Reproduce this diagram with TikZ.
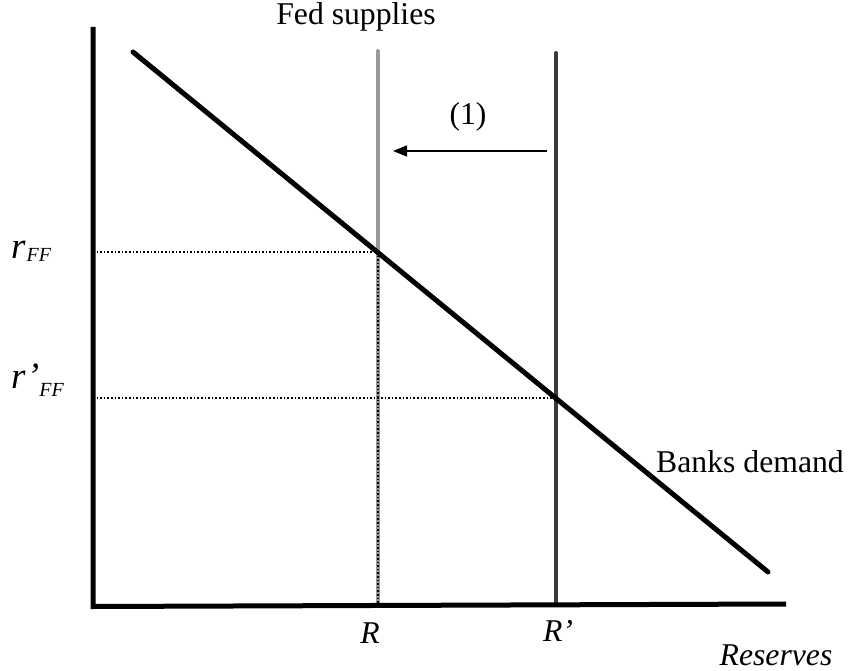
\documentclass[tikz,border=0pt]{standalone}
\usepackage{fontspec}
\setmainfont{Liberation Serif}
\usetikzlibrary{arrows.meta}
\definecolor{supgray}{HTML}{999999}
\definecolor{supdark}{HTML}{3A3A3A}
\newcommand{\subFF}[1]{\raisebox{#1}{\fontsize{20}{22}\selectfont\itshape FF}}
\tikzset{
  axis/.style={line width=5pt, line cap=butt},
  demandline/.style={line width=5pt, line cap=round},
  supplyA/.style={line width=4pt, draw=supgray, line cap=round},
  supplyB/.style={line width=4pt, draw=supdark, line cap=round},
  guide/.style={line width=1.6pt, dotted},
  lbl/.style={font=\fontsize{31.7}{36}\selectfont, inner sep=0pt},
  ratelbl/.style={font=\fontsize{37}{40}\selectfont\itshape, inner sep=0pt, anchor=base west},
  shiftarrow/.style={line width=1.5pt, -{Triangle[length=14pt,width=11pt]}}
}
\begin{document}
\begin{tikzpicture}[x=1pt,y=-1pt]
\useasboundingbox (0,0) rectangle (848,671);
% coordinates
\coordinate (top) at (93,27);
\coordinate (origin) at (93,604);
\coordinate (xend) at (786,604);
\coordinate (dstart) at (133,52);
\coordinate (dend) at (768,572);
\coordinate (e1) at (378,252);
\coordinate (e2) at (556,398);
\coordinate (s1top) at (378,51);
\coordinate (s1bot) at (378,604);
\coordinate (s2top) at (556,53);
\coordinate (s2bot) at (556,604);
\coordinate (y1) at (93,252);
\coordinate (y2) at (93,398);
\coordinate (afrom) at (547,151);
\coordinate (ato) at (393,151);
% supplies
\draw[supplyA] (s1top) -- (s1bot);
\draw[supplyB] (s2top) -- (s2bot);
% guides
\draw[guide] (y1) -- (e1);
\draw[guide] (e1) -- (s1bot);
\draw[guide] (y2) -- (e2);
% demand
\draw[demandline] (dstart) -- (dend);
% axes
\draw[axis] (top) -- ([yshift=-2.5pt]origin) -- (xend);
% shift arrow
\draw[shiftarrow] (afrom) -- (ato);
% labels
\node[lbl] (fed) at (356,17) {Fed supplies};
\node[lbl] (one) at (468,117) {(1)};
\node[ratelbl] (rff) at (11,258) {r\kern1pt\subFF{-3pt}};
\node[ratelbl] (rpff) at (11,388) {r’\subFF{-8pt}};
\node[lbl] (demlbl) at (750,462) {Banks demand};
\node[lbl] (rlbl) at (370,633) {\textit{R}};
\node[lbl] (rplbl) at (558,631) {\textit{R’}};
\node[lbl] (res) at (776,655) {\textit{Reserves}};
\end{tikzpicture}
\end{document}
